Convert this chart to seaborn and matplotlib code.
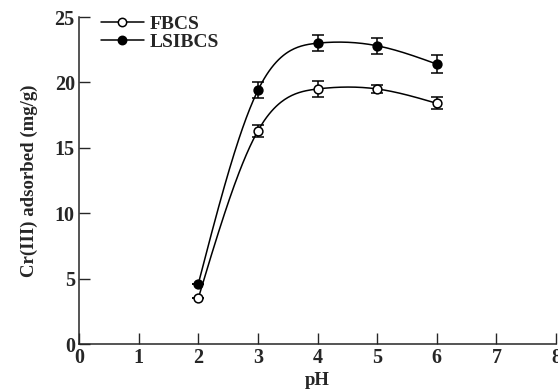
import numpy as np
import pandas as pd
import matplotlib
matplotlib.use("Agg")
import matplotlib.pyplot as plt
import seaborn as sns
from matplotlib.lines import Line2D

ph = [2, 3, 4, 5, 6]
fbcs = [3.5, 16.3, 19.5, 19.5, 18.4]
fbcs_err = [0.0, 0.45, 0.6, 0.3, 0.45]
lsibcs = [4.6, 19.4, 23.0, 22.8, 21.4]
lsibcs_err = [0.0, 0.6, 0.6, 0.6, 0.7]

df = pd.DataFrame({"pH": ph * 2,
                   "value": fbcs + lsibcs,
                   "err": fbcs_err + lsibcs_err,
                   "series": ["FBCS"] * 5 + ["LSIBCS"] * 5})


def natural_spline(x, y, n=200):
    # smooth curve through the measured points (natural cubic spline)
    x = np.asarray(x, float)
    y = np.asarray(y, float)
    k = len(x)
    h = np.diff(x)
    A = np.zeros((k, k))
    b = np.zeros(k)
    A[0, 0] = A[-1, -1] = 1
    for i in range(1, k - 1):
        A[i, i - 1] = h[i - 1]
        A[i, i] = 2 * (h[i - 1] + h[i])
        A[i, i + 1] = h[i]
        b[i] = 6 * ((y[i + 1] - y[i]) / h[i] - (y[i] - y[i - 1]) / h[i - 1])
    m = np.linalg.solve(A, b)
    xs = np.linspace(x[0], x[-1], n)
    idx = np.clip(np.searchsorted(x, xs) - 1, 0, k - 2)
    x0, x1 = x[idx], x[idx + 1]
    hh = x1 - x0
    t0, t1 = x1 - xs, xs - x0
    ys = (m[idx] * t0 ** 3 / (6 * hh) + m[idx + 1] * t1 ** 3 / (6 * hh)
          + (y[idx] / hh - m[idx] * hh / 6) * t0
          + (y[idx + 1] / hh - m[idx + 1] * hh / 6) * t1)
    return xs, ys


sns.set_style("ticks")
plt.rcParams["font.family"] = ["Liberation Serif", "DejaVu Serif"]
plt.rcParams["font.weight"] = "bold"
plt.rcParams["axes.labelweight"] = "bold"

fig = plt.figure(figsize=(5.58, 3.91), dpi=100)
ax = fig.add_axes([0.1416, 0.12, 0.855, 0.8365])

styles = {"FBCS": "white", "LSIBCS": "black"}
for name, face in styles.items():
    d = df[df["series"] == name]
    xs, ys = natural_spline(d["pH"], d["value"])
    sns.lineplot(x=xs, y=ys, ax=ax, color="black", lw=1.1, zorder=2)
    ax.errorbar(d["pH"], d["value"], yerr=d["err"], fmt="none",
                ecolor="black", elinewidth=1.1, capsize=4.5, capthick=1.1,
                zorder=3)
    sns.scatterplot(data=d, x="pH", y="value", ax=ax, marker="o", s=40,
                    color=face, edgecolor="black", linewidth=1.1, zorder=4)

handles = [Line2D([], [], color="black", lw=1.1, marker="o", ms=6,
                  mfc=styles[n], mec="black", mew=1.1) for n in styles]
ax.legend(handles, list(styles), loc="upper left", bbox_to_anchor=(0.03, 1.03),
          frameon=False, fontsize=14, handlelength=2.2, handletextpad=0.3,
          labelspacing=0.05, borderaxespad=0)

ax.set_xlim(0, 8)
ax.set_ylim(0, 25)
ax.set_xticks(range(0, 9))
ax.set_yticks(range(0, 26, 5))
ax.tick_params(direction="in", length=8, width=1, labelsize=14.5, pad=3)
for s in ["left", "bottom"]:
    ax.spines[s].set_linewidth(1.1)
sns.despine(ax=ax)
ax.set_xlabel("pH", fontsize=13.5, labelpad=3)
ax.set_ylabel("Cr(III) adsorbed (mg/g)", fontsize=13.5, labelpad=12)

fig.savefig("out.png", dpi=100)
